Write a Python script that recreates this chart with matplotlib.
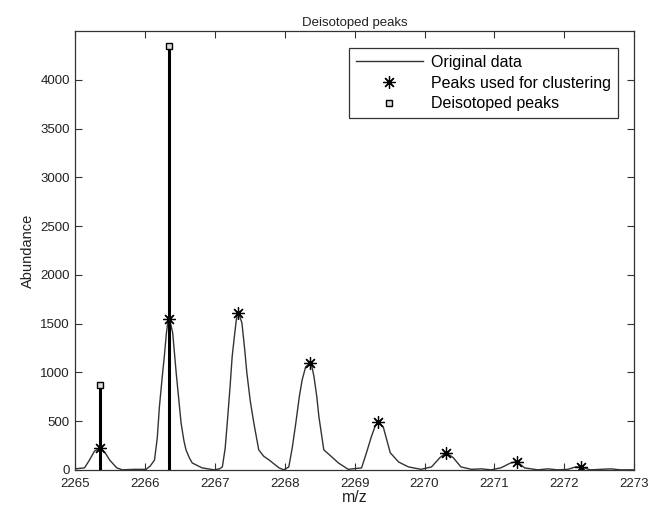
import matplotlib
matplotlib.use("Agg")
import matplotlib.pyplot as plt

plt.rcParams['font.family'] = ['Liberation Sans', 'DejaVu Sans']

# === Data ===
# original spectrum (m/z, abundance)
mz = [2265.00, 2265.07, 2265.14, 2265.21, 2265.28, 2265.36, 2265.43, 2265.50,
      2265.60, 2265.68, 2265.85, 2266.02, 2266.08, 2266.14, 2266.18, 2266.21,
      2266.25, 2266.28, 2266.31, 2266.33, 2266.35, 2266.37, 2266.40, 2266.45,
      2266.49, 2266.52, 2266.56, 2266.59, 2266.64, 2266.68, 2266.82, 2266.99,
      2267.07, 2267.11, 2267.15, 2267.18, 2267.22, 2267.25, 2267.29, 2267.31,
      2267.33, 2267.36, 2267.39, 2267.43, 2267.46, 2267.51, 2267.56, 2267.63,
      2267.70, 2267.78, 2267.92, 2267.99, 2268.06, 2268.11, 2268.16, 2268.21,
      2268.25, 2268.30, 2268.36, 2268.39, 2268.42, 2268.46, 2268.49, 2268.56,
      2268.67, 2268.77, 2268.91, 2269.10, 2269.17, 2269.24, 2269.29, 2269.33,
      2269.37, 2269.41, 2269.51, 2269.63, 2269.77, 2269.95, 2270.10, 2270.22,
      2270.31, 2270.41, 2270.52, 2270.67, 2270.81, 2270.95, 2271.09, 2271.23,
      2271.32, 2271.43, 2271.62, 2271.76, 2271.90, 2272.05, 2272.16, 2272.23,
      2272.37, 2272.52, 2272.66, 2272.80, 2273.00]
abundance = [10, 15, 20, 100, 190, 225, 180, 100,
             20, 0, 5, 5, 40, 100, 330, 645,
             950, 1160, 1400, 1510, 1550, 1500, 1405, 995,
             700, 480, 300, 205, 120, 70, 20, 0,
             10, 30, 220, 480, 850, 1160, 1420, 1540,
             1610, 1570, 1505, 1230, 995, 700, 480, 205,
             140, 100, 20, 0, 30, 230, 480, 750,
             920, 1055, 1095, 1060, 955, 750, 545, 205,
             135, 70, 5, 20, 175, 340, 440, 490,
             470, 440, 175, 80, 30, 5, 30, 125,
             175, 125, 30, 5, 10, 0, 20, 70,
             85, 20, 0, 10, 0, 5, 30, 30,
             0, 5, 10, 0, 0]

# peaks used for clustering
peak_mz = [2265.36, 2266.35, 2267.33, 2268.36, 2269.33, 2270.31, 2271.32, 2272.23]
peak_ab = [225, 1550, 1610, 1095, 490, 175, 85, 30]

# deisotoped peaks
deiso_mz = [2265.36, 2266.35]
deiso_ab = [870, 4350]

xticks = list(range(2265, 2274))
yticks = list(range(0, 4001, 500))

# === Plot ===
fig = plt.figure(figsize=(6.5, 5.18), dpi=100)
ax = fig.add_axes([0.115, 0.093, 0.861, 0.847])

line, = ax.plot(mz, abundance, color='#333333', lw=1.0, label='Original data')
stars, = ax.plot(peak_mz, peak_ab, ls='none', marker=(8, 2, 0), color='black',
                 markersize=9, markeredgewidth=0.9, label='Peaks used for clustering')
ax.vlines(deiso_mz, 0, deiso_ab, color='black', lw=2.2)
squares, = ax.plot(deiso_mz, deiso_ab, ls='none', marker='s', markersize=4,
                   markerfacecolor='#dddddd', markeredgecolor='black',
                   markeredgewidth=1.0, label='Deisotoped peaks')

ax.set_xlim(2265, 2273)
ax.set_ylim(0, 4500)
ax.set_xticks(xticks)
ax.set_yticks(yticks)
ax.tick_params(direction='in', top=True, right=True, length=5, labelsize=9.5,
               color='#333333', labelcolor='#222222')
ax.tick_params(axis='x', pad=6)
for s in ax.spines.values():
    s.set_color('#333333')
    s.set_linewidth(0.9)

ax.set_title('Deisotoped peaks', fontsize=9.5, color='#222222', pad=4)
ax.set_xlabel('m/z', fontsize=11.5, color='#222222', labelpad=0)
ax.set_ylabel('Abundance', fontsize=10.5, color='#222222', labelpad=4)

leg = ax.legend(handles=[line, stars, squares], loc='upper right',
                bbox_to_anchor=(0.985, 0.98), fontsize=11.5, fancybox=False,
                edgecolor='#333333', framealpha=1, handlelength=4.2,
                borderpad=0.45, labelspacing=0.35, handletextpad=0.5)
leg.get_frame().set_linewidth(0.9)

fig.savefig('out.png', dpi=100, facecolor='white')
